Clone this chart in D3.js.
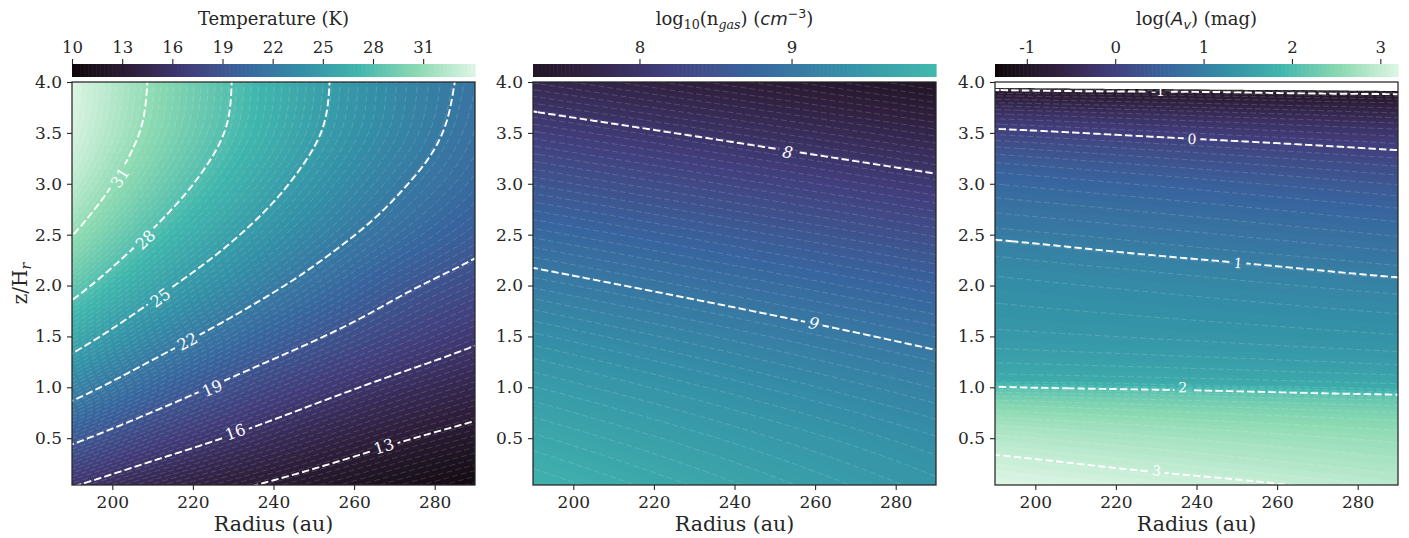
<!DOCTYPE html>
<html>
<head>
<meta charset="utf-8">
<script src="https://cdn.jsdelivr.net/npm/d3@7"></script>
<style>
  body { margin: 0; background: #ffffff; }
  svg { display: block; font-family: "DejaVu Serif", serif; }
</style>
</head>
<body>
<div class="container"></div>
<script>
// DATA
// temperature: rows = heights (z/Hr), columns = radii (au)
const tempRadii = [190, 210, 230, 250, 270, 290];
const tempHeights = [0, 0.5, 1, 1.5, 2, 2.5, 3, 3.5, 4];
const tempValues = [
  [15.85, 14.25, 13.1, 12.05, 11.1, 10.2],
  [19.43, 17.4, 15.8, 14.43, 13.25, 12.3],
  [22.9, 20.45, 18.45, 16.8, 15.45, 14.35],
  [26.0, 23.26, 21.06, 19.21, 17.66, 16.35],
  [28.75, 25.7, 23.32, 21.3, 19.48, 18.15],
  [31.05, 27.8, 25.2, 23.0, 21.15, 19.65],
  [32.7, 29.45, 26.7, 24.3, 22.3, 20.7],
  [33.7, 30.5, 27.7, 25.2, 23.1, 21.3],
  [34.0, 30.8, 27.95, 25.45, 23.3, 21.6]
];
const tempLevels = [13, 16, 19, 22, 25, 28, 31];
const tempLabelSpots = [[267.4, 0.42], [230.5, 0.56], [224.8, 0.99], [218.6, 1.45], [211.9, 1.88], [208.2, 2.45], [201.9, 3.06]];
const tempTicks = [10, 13, 16, 19, 22, 25, 28, 31];
const tempRange = [10, 34.1];

// gas density log10(n): rows = heights, columns = radii
const gasRadii = [190, 240, 290];
const gasHeights = [0, 0.5, 1, 1.5, 2, 2.5, 3, 3.5, 4];
const gasValues = [
  [9.85, 9.65, 9.45],
  [9.70, 9.51, 9.32],
  [9.53, 9.34, 9.15],
  [9.33, 9.135, 8.94],
  [9.09, 8.89, 8.69],
  [8.82, 8.61, 8.40],
  [8.51, 8.29, 8.07],
  [8.16, 7.93, 7.70],
  [7.77, 7.53, 7.29]
];
const gasLevels = [8, 9];
const gasLabelSpots = [[253.2, 3.31], [259.7, 1.63]];
const gasTicks = [8, 9];
const gasRange = [7.3, 9.95];

// extinction log(Av): heights at which each anchor value is reached, per radius
const avRadii = [190, 240, 290];
const avAnchorValues = [3.2, 3.0, 2.2, 2.0, 1.72, 1.0, 0.0, -0.55, -1.0, -1.36, -2.2];
const avAnchorHeights = [
  [0.04, 0.335, 0.95, 1.006, 1.06, 2.45, 3.54, 3.80, 3.922, 3.94, 4.0],
  [-0.12, 0.13, 0.915, 0.97, 1.025, 2.26, 3.44, 3.755, 3.905, 3.925, 4.0],
  [-0.3, -0.08, 0.875, 0.927, 0.98, 2.08, 3.33, 3.70, 3.88, 3.91, 4.0]
];
const avLevels = [-1, 0, 1, 2, 3];
const avLabelSpots = [[230.5, 3.91], [238.9, 3.44], [250.3, 2.22], [236.6, 1.0], [230.1, 0.18]];
const avTicks = [-1, 0, 1, 2, 3];
const avRange = [-1.36, 3.2];

const radiusTicks = [200, 220, 240, 260, 280];
const heightTicks = [0.5, 1.0, 1.5, 2.0, 2.5, 3.0, 3.5, 4.0];

// COLORMAP (seaborn mako)
const makoStops = [0, 1/7, 2/7, 3/7, 4/7, 5/7, 6/7, 1];
const makoColors = ["#0b0405", "#2e1e3b", "#413d7b", "#37659e", "#348fa7", "#40b7ad", "#8bdab2", "#def5e5"];
const mako = d3.scaleLinear().domain(makoStops).range(makoColors).interpolate(d3.interpolateLab).clamp(true);

// LAYOUT
const width = 1409, height = 538;
const panelLeft = [72, 533, 995];
const panelWidth = 403;
const panelTop = 82, panelBottom = 485;
const cbarTop = 64, cbarHeight = 13;
const ink = "#262626";

const panels = [
  {
    radii: tempRadii,
    columns: tempRadii.map((r, i) => ({ z: tempHeights, v: tempValues.map(row => row[i]) })),
    levels: tempLevels, labels: tempLabelSpots, ticks: tempTicks, range: tempRange,
    cmap: [0, 1], fineEvery: 1, fill0: true, labelSize: 16, italic: false, steep: false
  },
  {
    radii: gasRadii,
    columns: gasRadii.map((r, i) => ({ z: gasHeights, v: gasValues.map(row => row[i]) })),
    levels: gasLevels, labels: gasLabelSpots, ticks: gasTicks, range: gasRange,
    cmap: [0.08, 0.72], fineEvery: 2, fill0: true, labelSize: 16, italic: true, steep: false
  },
  {
    radii: avRadii,
    columns: avRadii.map((r, i) => ({ z: avAnchorHeights[i], v: avAnchorValues })),
    levels: avLevels, labels: avLabelSpots, ticks: avTicks, range: avRange,
    cmap: [0, 1], fineEvery: 2, fill0: false, labelSize: 14, italic: false, steep: true
  }
];

// cubic hermite through the read points; "limit" keeps it monotone where the field jumps
function hermite(xs, ys, limit) {
  const n = xs.length, h = [], s = [], m = [];
  for (let k = 0; k < n - 1; k++) {
    h[k] = xs[k + 1] - xs[k];
    s[k] = (ys[k + 1] - ys[k]) / h[k];
  }
  m[0] = s[0];
  m[n - 1] = s[n - 2];
  for (let k = 1; k < n - 1; k++) {
    const p = (s[k - 1] * h[k] + s[k] * h[k - 1]) / (h[k - 1] + h[k]);
    m[k] = limit
      ? (Math.sign(s[k - 1]) + Math.sign(s[k])) * Math.min(Math.abs(s[k - 1]), Math.abs(s[k]), 0.5 * Math.abs(p))
      : p;
  }
  if (!limit && n > 2) {
    m[0] = 1.5 * s[0] - 0.5 * m[1];
    m[n - 1] = 1.5 * s[n - 2] - 0.5 * m[n - 2];
  }
  return x => {
    if (x <= xs[0]) return ys[0] + (x - xs[0]) * m[0];
    if (x >= xs[n - 1]) return ys[n - 1] + (x - xs[n - 1]) * m[n - 1];
    const k = Math.min(d3.bisectRight(xs, x) - 1, n - 2);
    const t = (x - xs[k]) / h[k], t2 = t * t, t3 = t2 * t;
    return (2 * t3 - 3 * t2 + 1) * ys[k] + (t3 - 2 * t2 + t) * h[k] * m[k]
      + (-2 * t3 + 3 * t2) * ys[k + 1] + (t3 - t2) * h[k] * m[k + 1];
  };
}

function makeField(radii, columns, steep) {
  const cols = columns.map(c => hermite(c.z, c.v, steep));
  const rowAt = z => hermite(radii, cols.map(f => f(z)), false);
  return { rowAt, at: (r, z) => rowAt(z)(r) };
}

// SVG
const svg = d3.select(".container")
  .append("svg")
  .attr("width", width)
  .attr("height", height);
const defs = svg.append("defs");

panels.forEach((p, idx) => {
  const x0 = panelLeft[idx];
  const xScale = d3.scaleLinear().domain([190, 290]).range([x0, x0 + panelWidth]);
  const yScale = d3.scaleLinear().domain([0.04, 4]).range([panelBottom, panelTop]);
  const colorOf = v => mako(p.cmap[0] + (v - p.range[0]) / (p.range[1] - p.range[0]) * (p.cmap[1] - p.cmap[0]));

  // sample the field on a grid a little larger than the axes so ring borders fall outside the clip
  const field = makeField(p.radii, p.columns, p.steep);
  const dr = 0.5, dz = 3.96 / 200, nx = 205, ny = 205;
  const r0 = 190 - 2 * dr, z0 = 0.04 - 2 * dz;
  const grid = new Float64Array(nx * ny);
  for (let j = 0; j < ny; j++) {
    const row = field.rowAt(z0 + j * dz);
    for (let i = 0; i < nx; i++) grid[j * nx + i] = row(r0 + i * dr);
  }
  const project = d3.geoTransform({
    point: function(x, y) {
      this.stream.point(xScale(r0 + (x - 0.5) * dr), yScale(z0 + (y - 0.5) * dz));
    }
  });
  const path = d3.geoPath(project);
  const contours = d3.contours().size([nx, ny]);

  defs.append("clipPath").attr("id", "clip" + idx)
    .append("rect")
    .attr("x", x0).attr("y", panelTop)
    .attr("width", panelWidth).attr("height", panelBottom - panelTop);

  const plot = svg.append("g").attr("clip-path", `url(#clip${idx})`);

  // filled bands
  const nBands = 100;
  const step = (p.range[1] - p.range[0]) / nBands;
  const bands = d3.range(nBands).map(k => p.range[0] + k * step);
  plot.append("rect")
    .attr("x", x0).attr("y", panelTop)
    .attr("width", panelWidth).attr("height", panelBottom - panelTop)
    .attr("fill", p.fill0 ? colorOf(p.range[0] + step / 2) : "#ffffff");
  plot.append("g")
    .selectAll("path")
    .data(bands)
    .join("path")
    .attr("d", t => path(contours.contour(grid, t)))
    .attr("fill", t => colorOf(t + step / 2));

  // faint contour lines
  plot.append("g")
    .selectAll("path")
    .data(bands.filter((t, k) => k > 0 && k % p.fineEvery === 0))
    .join("path")
    .attr("d", t => path(contours.contour(grid, t)))
    .attr("fill", "none")
    .attr("stroke", "#ffffff")
    .attr("stroke-opacity", 0.26)
    .attr("stroke-width", 0.6)
    .attr("stroke-dasharray", "6,3");

  // label geometry: follow the local contour direction
  const labelInfo = p.labels.map(([r, z], k) => {
    const e = 0.5, ez = 0.02;
    const gx = (field.at(r + e, z) - field.at(r - e, z)) / (xScale(r + e) - xScale(r - e));
    const gy = (field.at(r, z + ez) - field.at(r, z - ez)) / (yScale(z + ez) - yScale(z - ez));
    let angle = Math.atan2(gx, -gy) * 180 / Math.PI;
    if (angle > 90) angle -= 180;
    if (angle < -90) angle += 180;
    const text = String(p.levels[k]);
    return { x: xScale(r), y: yScale(z), angle, text, w: text.length * 0.62 * p.labelSize + 8 };
  });

  const mask = defs.append("mask").attr("id", "mask" + idx)
    .attr("maskUnits", "userSpaceOnUse")
    .attr("x", 0).attr("y", 0).attr("width", width).attr("height", height);
  mask.append("rect").attr("width", width).attr("height", height).attr("fill", "#ffffff");
  mask.selectAll("rect.cut")
    .data(labelInfo)
    .join("rect")
    .attr("class", "cut")
    .attr("x", d => -d.w / 2).attr("y", -p.labelSize * 0.45)
    .attr("width", d => d.w).attr("height", p.labelSize * 0.9)
    .attr("transform", d => `translate(${d.x},${d.y}) rotate(${d.angle})`)
    .attr("fill", "#000000");

  // labelled dashed contours
  plot.append("g")
    .attr("mask", `url(#mask${idx})`)
    .selectAll("path")
    .data(p.levels)
    .join("path")
    .attr("d", t => path(contours.contour(grid, t)))
    .attr("fill", "none")
    .attr("stroke", "#ffffff")
    .attr("stroke-width", 1.9)
    .attr("stroke-dasharray", "7.4,3.2");

  plot.append("g")
    .selectAll("text")
    .data(labelInfo)
    .join("text")
    .attr("transform", d => `translate(${d.x},${d.y}) rotate(${d.angle})`)
    .attr("text-anchor", "middle")
    .attr("dy", "0.35em")
    .attr("fill", "#ffffff")
    .attr("font-size", p.labelSize)
    .attr("font-style", p.italic ? "italic" : "normal")
    .text(d => d.text);

  // frame
  svg.append("rect")
    .attr("x", x0).attr("y", panelTop)
    .attr("width", panelWidth).attr("height", panelBottom - panelTop)
    .attr("fill", "none")
    .attr("stroke", ink)
    .attr("stroke-width", 1.25);

  // AXES
  const xAxis = svg.append("g")
    .attr("transform", `translate(0,${panelBottom})`)
    .call(d3.axisBottom(xScale).tickValues(radiusTicks).tickSize(5).tickPadding(6));
  const yAxis = svg.append("g")
    .attr("transform", `translate(${x0},0)`)
    .call(d3.axisLeft(yScale).tickValues(heightTicks).tickSize(5).tickPadding(5).tickFormat(d3.format(".1f")));
  [xAxis, yAxis].forEach(a => {
    a.select(".domain").remove();
    a.selectAll(".tick line").attr("stroke", ink).attr("stroke-width", 1.1);
    a.selectAll(".tick text").attr("fill", ink).attr("font-size", 17).attr("font-family", "DejaVu Serif");
  });

  svg.append("text")
    .attr("x", x0 + panelWidth / 2).attr("y", 531)
    .attr("text-anchor", "middle")
    .attr("font-size", 20.5)
    .attr("fill", ink)
    .text("Radius (au)");

  // COLORBAR
  const cScale = d3.scaleLinear().domain(p.range).range([x0, x0 + panelWidth]);
  svg.append("g")
    .selectAll("rect")
    .data(bands)
    .join("rect")
    .attr("x", t => cScale(t))
    .attr("y", cbarTop)
    .attr("width", cScale(p.range[0] + step) - cScale(p.range[0]) + 0.6)
    .attr("height", cbarHeight)
    .attr("fill", t => colorOf(t + step / 2));
  const cAxis = svg.append("g")
    .attr("transform", `translate(0,${cbarTop})`)
    .call(d3.axisTop(cScale).tickValues(p.ticks).tickSize(5).tickPadding(6).tickFormat(d => String(d)));
  cAxis.select(".domain").remove();
  cAxis.selectAll(".tick line").attr("stroke", ink).attr("stroke-width", 1.1);
  cAxis.selectAll(".tick text").attr("fill", ink).attr("font-size", 16.5).attr("font-family", "DejaVu Serif");
});

// TITLES
const centers = panelLeft.map(x => x + panelWidth / 2);
svg.append("text")
  .attr("x", centers[0]).attr("y", 25)
  .attr("text-anchor", "middle").attr("font-size", 18).attr("fill", ink)
  .text("Temperature (K)");

const t2 = svg.append("text")
  .attr("x", centers[1]).attr("y", 25)
  .attr("text-anchor", "middle").attr("font-size", 18).attr("fill", ink);
t2.append("tspan").text("log");
t2.append("tspan").attr("font-size", 12.6).attr("dy", 4).text("10");
t2.append("tspan").attr("dy", -4).text("(n");
t2.append("tspan").attr("font-size", 12.6).attr("font-style", "italic").attr("dy", 4).text("gas");
t2.append("tspan").attr("dy", -4).text(") (");
t2.append("tspan").attr("font-family", "DejaVu Sans").attr("font-style", "italic").text("cm");
t2.append("tspan").attr("font-family", "DejaVu Sans").attr("font-size", 12.6).attr("dy", -7).text("\u22123");
t2.append("tspan").attr("dy", 7).text(")");

const t3 = svg.append("text")
  .attr("x", centers[2]).attr("y", 25)
  .attr("text-anchor", "middle").attr("font-size", 18).attr("fill", ink);
t3.append("tspan").text("log(");
t3.append("tspan").attr("font-family", "DejaVu Sans").attr("font-style", "italic").text("A");
t3.append("tspan").attr("font-family", "DejaVu Sans").attr("font-style", "italic").attr("font-size", 12.6).attr("dy", 4).text("v");
t3.append("tspan").attr("dy", -4).text(") (mag)");

// y label
const yl = svg.append("text")
  .attr("transform", `translate(27,${(panelTop + panelBottom) / 2}) rotate(-90)`)
  .attr("text-anchor", "middle").attr("font-size", 20).attr("fill", ink);
yl.append("tspan").text("z/H");
yl.append("tspan").attr("font-size", 14).attr("font-style", "italic").attr("dy", 4).text("r");
</script>
</body>
</html>
